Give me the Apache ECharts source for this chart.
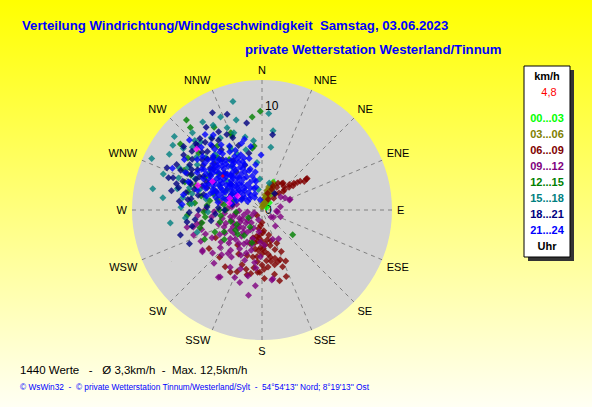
<!DOCTYPE html>
<html><head><meta charset="utf-8">
<script src="https://cdn.jsdelivr.net/npm/echarts@6/dist/echarts.min.js"></script>
<style>html,body{margin:0;padding:0;}#c{width:592px;height:407px;}</style>
</head><body><div id="c"></div>
<script>
// Direction tick labels (every 22.5°)
const directions = ['N','NNE','NE','ENE','E','ESE','SE','SSE','S','SSW','SW','WSW','W','WNW','NW','NNW'];
// Legend labels (hour bins)
const hourBins = ['00...03','03...06','06...09','09...12','12...15','15...18','18...21','21...24'];
const binColors = ['#00ff00','#808000','#800000','#800080','#008000','#008080','#000080','#0000ff'];
const radiusLabels = [0, 10];

// Data: [speed km/h, direction degrees]
const h00_03 = [[2.9,22],[2.5,24],[1.0,45],[0.5,60],[1.8,30]];
const h03_06 = [[0.5,20],[0.8,15],[1.0,18],[1.2,20],[1.4,17],[1.6,19],[1.8,21],[2.0,20],[2.2,22],[2.4,21],[2.6,23],[2.8,22],[1.1,10],[1.5,12],[1.9,14],[2.3,16],[0.6,5],[0.3,0],[1.3,25],[1.7,27],[2.1,26],[2.5,18],[0.9,28],[2.7,26],[0.4,12],[0.7,24],[1.5,23],[2.0,16],[2.4,25],[1.2,14]];
const h06_09 = [[5.2,55],[5.3,55],[4.6,53],[4.0,50],[3.4,50],[2.9,48],[2.3,45],[3.2,37],[3.0,31],[1.6,45],[3.8,52],[2.7,49],[2.6,33],[2.6,22],[3.3,38],[2.2,25],[1.7,19],[4.3,52],[3.6,47],[2.0,40],[1.2,30],[4.9,56],[3.1,43],
  [7.0,166],[6.3,169],[5.1,160],[5.2,163],[5.4,167],[5.5,174],[6.0,182],[6.0,184],[6.4,193],[6.4,202],[6.7,207],[6.5,213],[6.1,222],[5.2,239],[6.3,234],[2.4,185],[3.7,178],[3.5,167],[3.2,192],[3.5,156],[4.0,162],[4.6,170],[4.6,191],[4.6,198],[1.2,180],[0.7,225],[2.8,198],[2.0,175],[2.9,170],[4.2,180],[5.0,185],[5.7,178],[4.4,155],[5.8,160],[3.9,185],[3.0,180],[2.5,165],[4.8,208],[5.6,200],[6.6,178],[6.8,160],[4.1,215],[5.9,195],[1.8,190],[3.4,200],[4.9,175],[5.4,155],[6.2,190],
  [2.2,178],[2.7,186],[3.3,174],[3.8,190],[4.3,172],[4.5,186],[5.3,180],[3.1,164],[3.6,182],[4.8,165],[2.6,192],[1.5,185],[4.0,176],[5.0,170],[5.6,188],[3.0,188]];
const h09_12 = [[7.3,185],[8.3,189],[7.3,197],[7.7,213],[6.9,236],[6.3,229],[6.7,171],[3.2,150],[2.5,62],[2.8,70],[1.4,94],[1.1,128],[2.9,69],[1.5,97],[1.3,122],[7.6,212],[6.8,172],[6.3,209],[5.1,199],[5.4,213],[3.1,258],[6.1,252],[5.5,241],
  [2.4,241],[2.0,230],[2.8,220],[3.5,230],[3.0,245],[1.8,255],[2.6,262],[3.7,250],[4.2,238],[4.5,225],[3.9,215],[4.8,205],[3.4,205],[2.2,210],[1.6,220],[1.2,240],[2.9,198],[4.0,195],[5.8,222],[5.0,232],[4.4,252],[3.6,265],[4.9,262],[5.9,247],[6.6,243],[7.0,250],[6.4,258],[3.3,273],[4.0,280],[2.5,283],[5.3,218],[6.0,200],[6.5,192],[5.6,186],[4.5,182],[7.0,202],[6.9,222],[2.1,188],[3.1,183],[1.0,200],[0.8,250],[4.6,268],[5.5,270],[6.2,265],[3.8,222],[4.3,210],[2.7,235],[2.3,250],[5.1,188],[3.0,160],[2.0,140],[1.9,110],[3.4,176],[2.2,55],[1.8,80],[7.4,257],[6.8,256],[6.0,258],[7.0,235],
  [1.7,235],[2.1,245],[2.5,226],[2.9,232],[3.2,240],[3.6,237],[3.1,252],[2.7,258],[2.2,268],[1.4,262],[1.9,205],[2.6,214],[3.2,218],[3.7,208],[4.1,228],[4.7,240],[4.0,246],[4.9,218],[5.4,228],[3.5,196],[4.4,200],[2.9,276],[3.9,258]];
const h12_15 = [[9.5,359],[9.0,354],[11.3,320],[6.0,351],[6.2,353],[3.8,129],[6.2,243],[6.2,254],[4.2,254],[10.5,319],[7.0,275],[5.3,275],
  [7.5,325],[8.2,312],[6.3,300],[5.4,310],[6.8,333],[8.7,305],[9.2,330],[7.7,338],[4.9,288],[6.0,283],[7.9,290],[5.5,263],[4.0,262],[3.2,250],[3.5,270],[2.8,240],[5.0,245],[4.6,232],[3.3,225],[7.3,284],[8.4,297],[10.1,309],[6.6,320],[5.8,327],[3.9,300],[2.5,265],[5.9,258],[7.2,266],[8.0,338],[2.0,215],[1.5,240],[3.0,215],[4.2,240],[3.3,197],[3.2,233],
  [4.4,283],[5.1,280],[3.7,278],[6.5,276],[2.9,288],[4.1,270],[6.8,290],[7.6,296],[5.6,268]];
const h15_18 = [[10.8,345],[9.3,4],[7.7,8],[6.1,8],[11.7,295],[10.7,281],[9.6,277],[12.6,321],[10.4,301],[8.9,262],[6.6,251],[6.7,353],[4.6,354],[7.2,347],[8.0,330],
  [7.0,320],[8.5,325],[9.0,312],[7.6,305],[8.2,300],[6.5,333],[7.9,340],[5.9,336],[9.6,308],[8.8,318],[10.0,318],[6.3,288],[7.3,287],[8.4,284],[5.5,281],[6.8,275],[4.7,300],[5.1,325],[9.4,330],[10.2,326],[7.1,295],[11.0,310],[8.6,291],[6.0,345],[9.0,344],[5.2,268],[7.8,272],[3.8,287],[4.4,310],[6.7,318],[5.7,297],[2.0,350],[3.0,356],[7.4,264],[10.1,290],[6.2,305],[2.7,15],
  [8.1,309],[9.3,316],[7.4,313],[8.9,297],[6.9,283],[9.8,336],[8.6,337],[10.6,306],[7.7,279]];
const h18_21 = [[9.8,340],[8.5,350],[7.3,8],[9.6,326],[9.1,319],[10.0,294],[9.1,290],[8.6,287],[9.5,289],[8.2,253],[7.7,245],[7.3,261],[6.5,262],[4.2,273],
  [6.0,304],[7.2,313],[5.5,330],[8.0,335],[6.8,298],[7.8,300],[5.0,315],[4.4,326],[6.6,340],[7.5,338],[8.8,310],[8.3,306],[3.9,310],[5.8,285],[6.9,279],[7.5,283],[8.7,296],[9.2,305],[6.2,322],[4.8,292],[5.3,273],[6.1,270],[7.0,268],[8.0,276],[5.6,347],[4.6,339],[3.3,297],[2.9,280],[7.9,328],[8.6,331],[6.4,309],[10.5,333],[9.0,315],[3.6,270],[4.5,265],[6.9,257],[5.0,258],[7.4,291],[8.9,282],[2.2,300],[6.2,292],[2.0,37],[7.5,310],
  [6.5,300],[7.0,295],[7.6,297],[8.1,290],[6.8,287],[7.3,302],[8.2,302],[8.0,314],[7.1,307],[6.9,317],[8.5,320],[7.8,322],[6.0,297],[5.7,292],[6.3,283],[7.2,278],[8.3,285],[9.3,298],[8.8,315],[6.4,314],[7.7,317],[8.4,325],[7.0,326],[6.1,310],[5.4,300],[9.7,309],[8.0,296],[7.3,290]];
const h21_24 = [[4.5,318],[5.0,312],[3.8,325],[5.6,322],[4.2,305],[6.1,315],[3.5,335],[5.3,330],[6.6,325],[4.8,300],[3.2,312],[2.8,328],[5.9,307],[7.0,318],[6.3,336],[4.0,342],[2.5,318],[3.9,296],[5.2,296],[6.8,305],[7.4,328],[4.6,333],[3.4,302],[5.7,339],[2.2,340],[1.8,322],[6.0,293],[7.7,312],[4.4,289],[3.0,346],[5.1,346],[6.7,343],[2.9,300],[4.9,326],[4.1,314],[5.4,317],[3.6,318],[6.4,320],[5.8,300],[4.7,309],[3.3,292],[2.0,305],[6.9,333],[7.2,300],[8.0,322],[7.9,308],[8.4,316],[5.5,284],[6.5,287],[7.7,281],[7.7,274],[5.3,359],[4.4,352],[3.7,350],[1.0,350],[1.4,330],[2.6,290],[3.0,282],[4.3,280],[8.6,327],[9.1,323],[9.5,295],[9.7,314],[8.9,303],[6.2,350],[7.0,346],[5.0,338],[3.9,308],[4.6,322],[5.6,328],[6.2,311],[4.0,330],[3.1,320],[2.4,332],[5.9,314],[6.8,316],[7.4,322],[5.3,305],[4.3,297],[3.6,286],[8.2,296],[7.6,291],[2.7,310],[1.6,312],[6.4,298],[7.1,309],[5.0,290],
  [1.6,301],[1.7,337],[2.2,296],[2.3,309],[2.1,322],[2.3,345],[2.8,293],[2.9,311],[2.7,321],[2.9,337],[2.8,348],[3.4,290],[3.3,298],[3.5,306],[3.4,314],[3.3,323],[3.5,330],[3.4,344],[4.0,287],[4.1,294],[3.9,302],[4.0,309],[4.1,318],[3.9,323],[4.0,336],[4.1,344],[4.6,285],[4.7,292],[4.5,298],[4.6,304],[4.7,313],[4.5,318],[4.6,327],[4.7,339],[5.2,288],[5.1,293],[5.3,300],[5.2,308],[5.1,314],[5.3,322],[5.2,327],[5.1,334],[5.3,341],[5.8,291],[5.7,296],[5.9,303],[5.8,310],[5.7,318],[5.9,324],[5.8,333],[6.4,303],[6.3,308],[6.5,313],[6.3,318],[6.4,331],[7.0,304],[7.1,313],[6.9,324],[4.3,320],[3.7,310],[4.9,305],[5.5,311],[4.4,335],[6.0,320],[3.0,305],[4.8,316],[5.5,335]];
const highlight = [[8.6,313],[6.6,291],[3.2,282],[3.3,290],[5.5,300],[2.7,300]];
const current = [[5.0,311]];

const hourSeries = [h00_03,h03_06,h06_09,h09_12,h12_15,h15_18,h18_21,h21_24];

const chart = echarts.init(document.getElementById('c'), null, {renderer:'svg'});
const FONT = 'Liberation Sans, Arial, sans-serif';

const series = hourSeries.map((d,i)=>({
  type:'scatter', coordinateSystem:'polar', name:hourBins[i], data:d,
  symbol:'diamond', symbolSize:7, itemStyle:{color:binColors[i]}, silent:true
}));
series.push({type:'scatter',coordinateSystem:'polar',data:highlight,symbol:'diamond',symbolSize:7,itemStyle:{color:'#ff00ff'}});
series.push({type:'scatter',coordinateSystem:'polar',data:current,symbol:'diamond',symbolSize:4,itemStyle:{color:'#ff0000'}});

const graphics = [
  {type:'text', x:22, y:25, style:{text:'Verteilung Windrichtung/Windgeschwindigkeit  Samstag, 03.06.2023', font:'bold 13.2px '+FONT, fill:'#0000ff', textVerticalAlign:'middle'}},
  {type:'text', x:245, y:49, style:{text:'private Wetterstation Westerland/Tinnum', font:'bold 13.2px '+FONT, fill:'#0000ff', textVerticalAlign:'middle'}},
  {type:'text', x:20, y:370, style:{text:'1440 Werte   -   Ø 3,3km/h  -  Max. 12,5km/h', font:'11.5px '+FONT, fill:'#000', textVerticalAlign:'middle'}},
  {type:'text', x:20, y:387, style:{text:"© WsWin32  -  © private Wetterstation Tinnum/Westerland/Sylt  -  54°54'13'' Nord; 8°19'13'' Ost", font:'8.3px '+FONT, fill:'#0000ff', textVerticalAlign:'middle'}},
  {type:'rect', shape:{x:528, y:70, width:46, height:191}, style:{fill:'#333'}},
  {type:'rect', shape:{x:524, y:66, width:46, height:191}, style:{fill:'#fff', stroke:'#000', lineWidth:1}},
  {type:'text', x:547, y:76, style:{text:'km/h', font:'bold 11px '+FONT, fill:'#000', textAlign:'center', textVerticalAlign:'middle'}},
  {type:'text', x:549, y:92, style:{text:'4,8', font:'11px '+FONT, fill:'#ff0000', textAlign:'center', textVerticalAlign:'middle'}},
  {type:'text', x:547, y:246, style:{text:'Uhr', font:'bold 11px '+FONT, fill:'#000', textAlign:'center', textVerticalAlign:'middle'}}
];
hourBins.forEach((t,i)=>{
  graphics.push({type:'text', x:547, y:118+i*16, style:{text:t, font:'bold 11px '+FONT, fill:binColors[i], textAlign:'center', textVerticalAlign:'middle'}});
});

chart.setOption({
  animation:false,
  backgroundColor:{type:'linear',x:0,y:0,x2:0,y2:1,colorStops:[{offset:0,color:'#ffff00'},{offset:1,color:'#fffff4'}]},
  polar:{center:[262,210], radius:130},
  angleAxis:{
    type:'value', min:0, max:360, interval:22.5, startAngle:90, clockwise:true,
    axisLine:{show:false}, axisTick:{show:false},
    axisLabel:{margin:5, color:'#000', fontFamily:FONT, fontSize:11,
      formatter:v=> v>=360 ? '' : directions[Math.round(v/22.5)%16]},
    splitLine:{show:true, lineStyle:{color:'#808080', type:[4,4], width:1}}
  },
  radiusAxis:{
    type:'value', min:0, max:12.5, interval:10,
    axisLine:{show:false}, axisTick:{show:false},
    axisLabel:{color:'#000', fontFamily:FONT, fontSize:12, margin:-3, align:'left',
      formatter:v=> radiusLabels.indexOf(v)>=0 ? String(v) : ''},
    splitLine:{show:true, lineStyle:{color:['#808080','#808080','rgba(0,0,0,0)'], type:[4,4], width:1}},
    splitArea:{show:true, areaStyle:{color:['#d3d3d3']}}
  },
  graphic:graphics,
  series:series
});
</script></body></html>
